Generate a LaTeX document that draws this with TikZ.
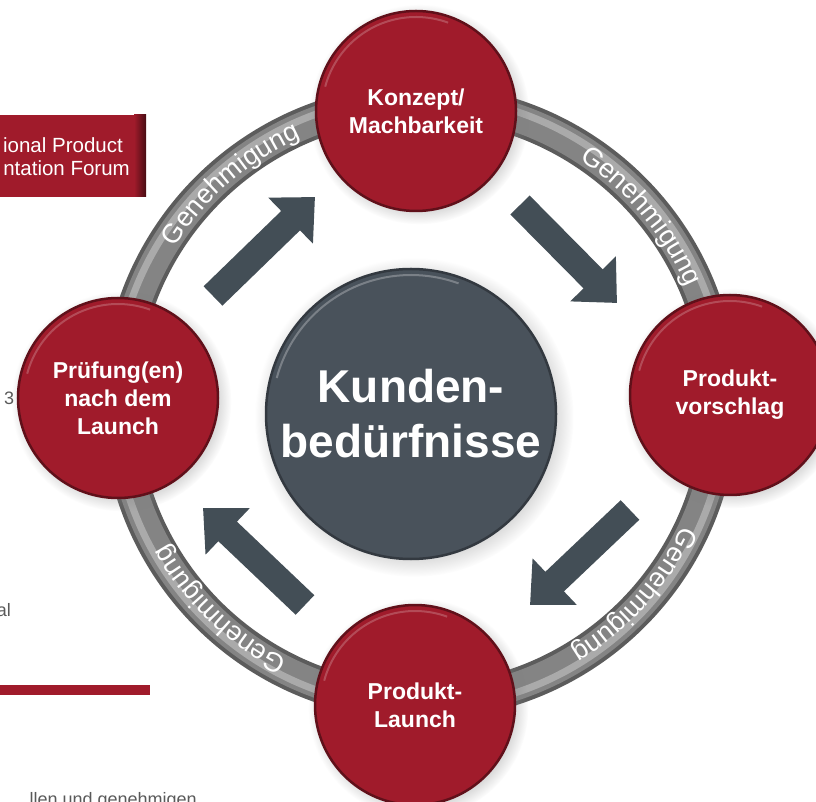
\documentclass[tikz,border=0pt]{standalone}
\usepackage{fontspec}
\setmainfont{Liberation Sans}
\usetikzlibrary{arrows.meta, decorations.text, shadows}
\definecolor{wine}{RGB}{160,27,43}
\definecolor{slatehub}{RGB}{73,82,91}
\definecolor{arrowslate}{RGB}{67,78,86}
\definecolor{ringdark}{RGB}{92,92,92}
\definecolor{ringmid}{RGB}{132,132,132}
\definecolor{ringlight}{RGB}{170,170,170}
\definecolor{textgray}{RGB}{89,89,89}

\begin{document}
\begin{tikzpicture}[
    x=1pt, y=1pt,
    phase/.style={circle, fill=wine, draw=wine!60!black, line width=2.5pt, minimum size=200pt, inner sep=0pt, align=center, text=white, font=\fontsize{23}{28}\selectfont\bfseries, circular drop shadow={shadow xshift=3pt, shadow yshift=-3pt, opacity=0.35}},
    hub/.style={circle, fill=slatehub, draw=slatehub!70!black, line width=2.5pt, minimum size=290pt, inner sep=0pt, align=center, text=white, font=\fontsize{46}{55}\selectfont\bfseries, circular drop shadow={shadow xshift=3pt, shadow yshift=-3pt, opacity=0.35}},
    flowarrow/.style={line width=27pt, arrowslate, -{Triangle[length=34pt, width=62pt]}},
    ringlabel/.style={decorate, decoration={text along path, text align=center, text={|\fontsize{27}{27}\selectfont\color{white}|Genehmigung}}},
    sidetext/.style={text=textgray, font=\fontsize{18}{22}\selectfont, inner sep=0pt}
]
\useasboundingbox (0,0) rectangle (816,801);
\clip (0,0) rectangle (816,801);

% cut-off parts of the page on the left
\fill[wine] (-5,604) rectangle (146,686);
\shade[left color=wine, right color=wine!45!black] (134,604) rectangle (146,686);
\node[anchor=base east, text=white, font=\fontsize{20.5}{24}\selectfont, inner sep=0pt] (forum1) at (123,648) {ional Product};
\node[anchor=base east, text=white, font=\fontsize{20.5}{24}\selectfont, inner sep=0pt] (forum2) at (130,625) {ntation Forum};
\node[sidetext, anchor=base west] (frag3) at (4,396) {3};
\node[sidetext, anchor=base east] (fragal) at (11,185) {al};
\fill[wine] (0,106) rectangle (150,116);
\node[sidetext, anchor=base east] (fragbottom) at (197,-4) {llen und genehmigen};

% ring
\coordinate (ringc) at (420,399);
\draw[ringdark, line width=36pt] (ringc) circle[radius=300];
\draw[ringmid, line width=28pt] (ringc) circle[radius=300];
\draw[ringlight, line width=7pt] (ringc) circle[radius=306];

% approval labels on the ring
\path[ringlabel] (ringc) ++(152:290) arc[start angle=152, end angle=110, radius=290];
\path[ringlabel] (ringc) ++(61:290) arc[start angle=61, end angle=19, radius=290];
\path[ringlabel] (ringc) ++(-21:290) arc[start angle=-21, end angle=-63, radius=290];
\path[ringlabel] (ringc) ++(247:290) arc[start angle=247, end angle=205, radius=290];

% phases
\node[phase] (konzept) at (416,690) {Konzept/\\Machbarkeit};
\node[phase] (vorschlag) at (730,406) {Produkt-\\vorschlag};
\node[phase] (launch) at (415,96) {Produkt-\\Launch};
\node[phase] (pruefung) at (118,403) {Prüfung(en)\\nach dem\\Launch};

% light rim at the upper left of each phase
\foreach \n in {konzept, vorschlag, launch, pruefung}
    \draw[wine!65!white, line width=2pt, opacity=0.6] (\n.center) ++(165:94) arc[start angle=165, end angle=70, radius=94];

\node[hub] (kunden) at (411,387) {Kunden-\\bedürfnisse};
\draw[slatehub!55!white, line width=2pt, opacity=0.6] (kunden.center) ++(165:139) arc[start angle=165, end angle=70, radius=139];

% arrows between phases
\coordinate (a1s) at (213,505);
\coordinate (a1e) at (315,604);
\coordinate (a2s) at (520,596);
\coordinate (a2e) at (617,498);
\coordinate (a3s) at (630,291);
\coordinate (a3e) at (530,196);
\coordinate (a4s) at (305,196);
\coordinate (a4e) at (203,293);
\draw[flowarrow] (a1s) -- (a1e);
\draw[flowarrow] (a2s) -- (a2e);
\draw[flowarrow] (a3s) -- (a3e);
\draw[flowarrow] (a4s) -- (a4e);

\end{tikzpicture}
\end{document}
